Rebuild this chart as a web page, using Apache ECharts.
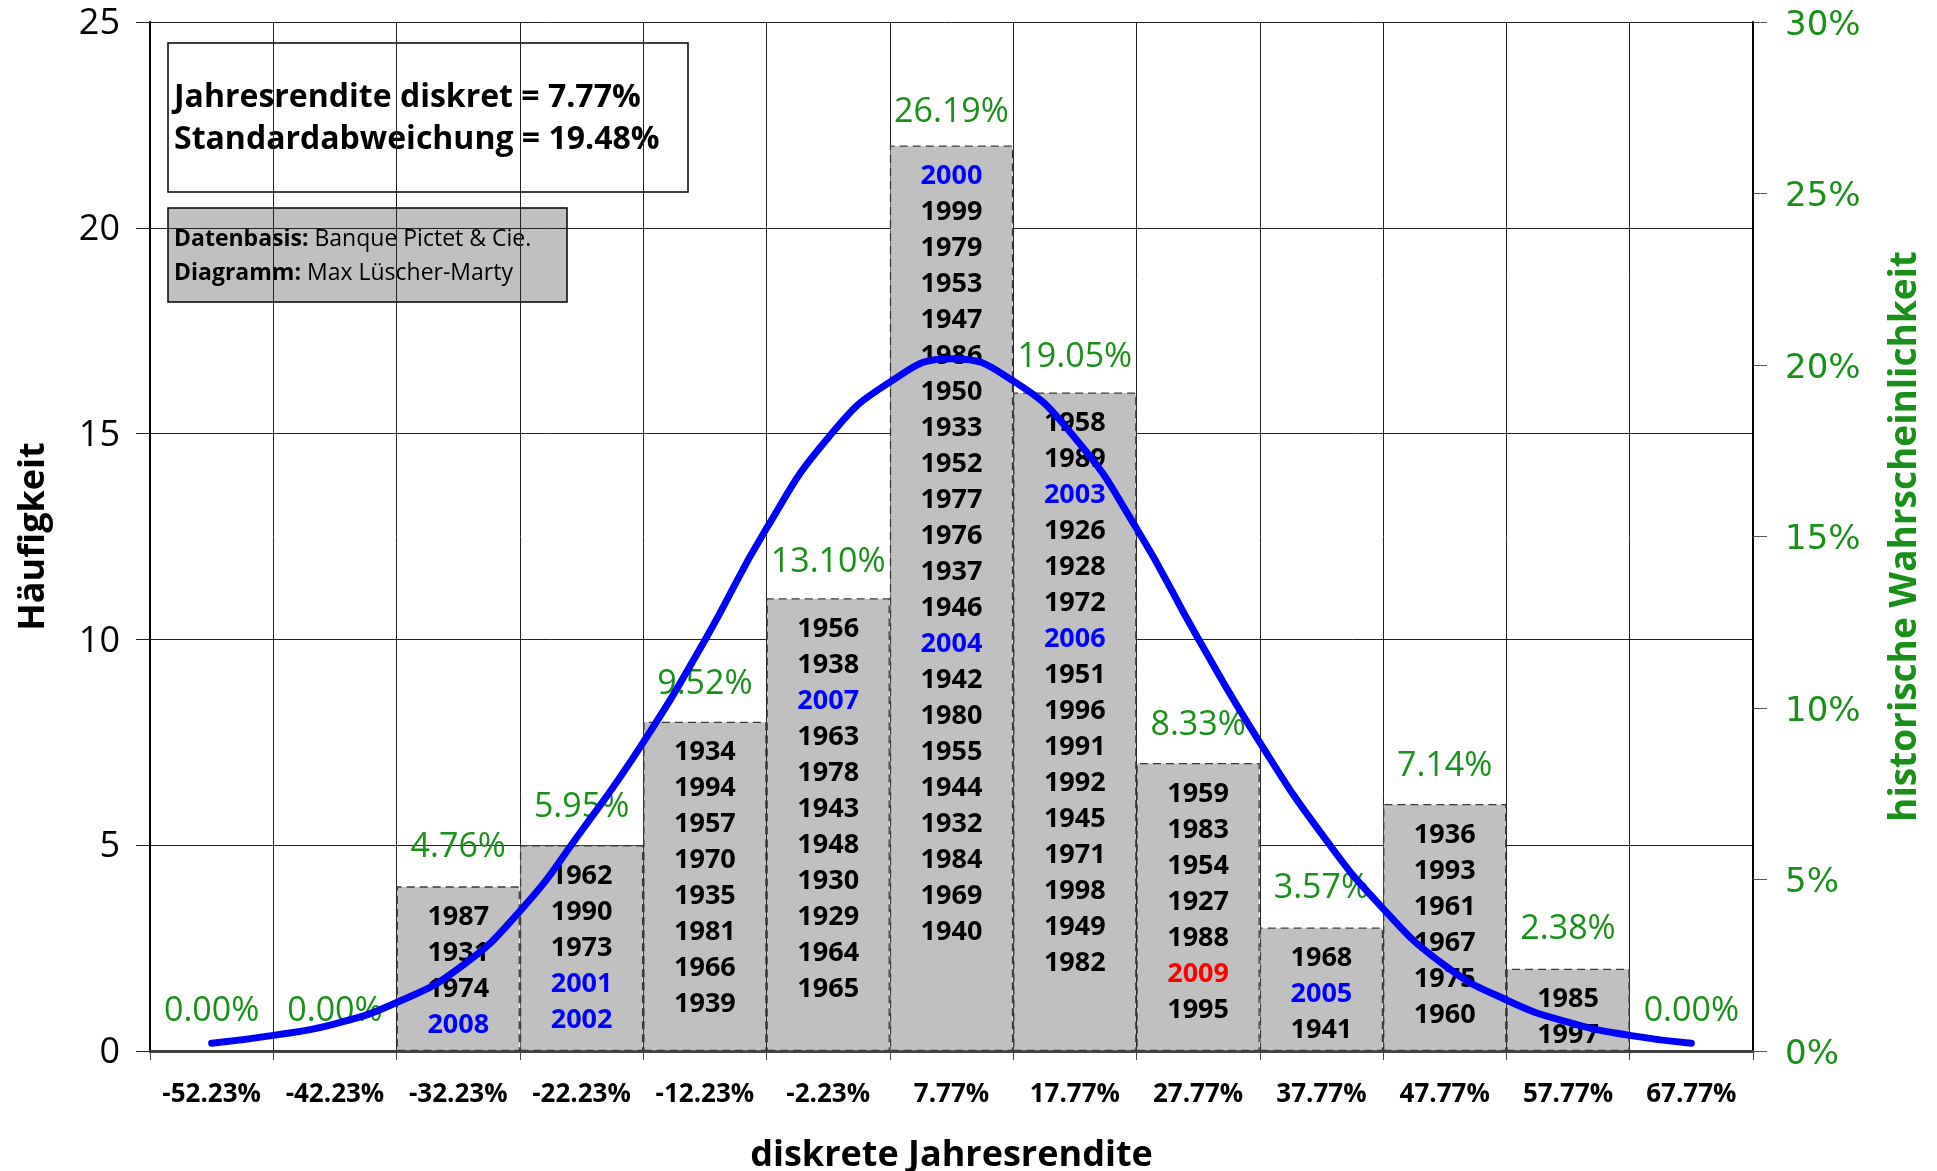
<!DOCTYPE html>
<html>
<head>
<meta charset="utf-8">
<script src="https://cdn.jsdelivr.net/npm/echarts@6/dist/echarts.min.js"></script>
<style>
  html, body { margin: 0; padding: 0; background: #fff; }
  #chart { width: 1937px; height: 1171px; }
</style>
</head>
<body>
<div id="chart"></div>
<script>
// Klassen der diskreten Jahresrendite (Klassenmitten)
var categories = ['-52.23%', '-42.23%', '-32.23%', '-22.23%', '-12.23%', '-2.23%', '7.77%',
  '17.77%', '27.77%', '37.77%', '47.77%', '57.77%', '67.77%'];
// Häufigkeit je Klasse
var counts = [0, 0, 4, 5, 8, 11, 22, 16, 7, 3, 6, 2, 0];
var curveX = [0, 0.5, 1, 1.5, 2, 2.5, 3, 3.5, 4, 4.5, 5, 5.5, 6,
  6.5, 7, 7.5, 8, 8.5, 9, 9.5, 10, 10.5, 11, 11.5, 12];
var curveY = [0.19, 0.38, 0.66, 1.18, 2.0, 3.4, 5.35, 7.5, 9.98, 12.7, 14.9, 16.25, 16.82,
  16.28, 14.9, 12.7, 10.02, 7.5, 5.28, 3.46, 2.08, 1.24, 0.7, 0.38, 0.19];
// Jahre je Klasse (von oben nach unten)
var years = [
  [],
  [],
  ['1987', '1931', '1974', '2008'],
  ['1962', '1990', '1973', '2001', '2002'],
  ['1934', '1994', '1957', '1970', '1935', '1981', '1966', '1939'],
  ['1956', '1938', '2007', '1963', '1978', '1943', '1948', '1930', '1929', '1964', '1965'],
  ['2000', '1999', '1979', '1953', '1947', '1986', '1950', '1933', '1952', '1977', '1976',
   '1937', '1946', '2004', '1942', '1980', '1955', '1944', '1932', '1984', '1969', '1940'],
  ['1958', '1989', '2003', '1926', '1928', '1972', '2006', '1951', '1996', '1991', '1992',
   '1945', '1971', '1998', '1949', '1982'],
  ['1959', '1983', '1954', '1927', '1988', '2009', '1995'],
  ['1968', '2005', '1941'],
  ['1936', '1993', '1961', '1967', '1975', '1960'],
  ['1985', '1997'],
  []
];
var blueYears = ['2000', '2001', '2002', '2003', '2004', '2005', '2006', '2007', '2008'];
var redYears = ['2009'];
var leftTicks = [0, 5, 10, 15, 20, 25];
var rightTicks = [0, 5, 10, 15, 20, 25, 30];

var green = '#1a8f1a';
var total = counts.reduce(function (a, b) { return a + b; }, 0);
// historische Wahrscheinlichkeit in % (auf der rechten Achse)
var share = counts.map(function (c) { return c / total * 100; });

var myChart = echarts.init(document.getElementById('chart'));

function yearLabel(params) {
  var list = years[params.dataIndex];
  return list.map(function (y) {
    var s = 'k';
    if (blueYears.indexOf(y) >= 0) s = 'b';
    if (redYears.indexOf(y) >= 0) s = 'r';
    return '{' + s + '|' + y + '}';
  }).join('\n');
}

var yearFont = { fontFamily: 'Open Sans', fontWeight: 'bold', fontSize: 27, lineHeight: 36 };

var option = {
  animation: false,
  backgroundColor: '#fff',
  grid: { left: 150, right: 184, top: 22, bottom: 120, containLabel: false, outerBoundsMode: 'none' },
  xAxis: [
    {
      type: 'category',
      data: categories,
      boundaryGap: true,
      name: 'diskrete Jahresrendite',
      nameLocation: 'middle',
      nameGap: 87,
      nameTextStyle: { fontFamily: 'Open Sans', fontWeight: 'bold', fontSize: 36, color: '#000' },
      axisLine: { lineStyle: { color: '#444', width: 3 } },
      axisTick: { show: true, length: 9, interval: 0, lineStyle: { color: '#444', width: 1 } },
      axisLabel: {
        interval: 0, margin: 31, color: '#000',
        fontFamily: 'Open Sans', fontWeight: 'bold', fontSize: 26
      },
      splitLine: { show: true, interval: 0, lineStyle: { color: '#222', width: 1 } }
    },
    {
      // Hilfsachse für die Kurve (Klassenindex)
      type: 'value',
      position: 'bottom',
      min: -0.5, max: 12.5,
      show: false
    }
  ],
  yAxis: [
    {
      type: 'value',
      min: leftTicks[0], max: leftTicks[leftTicks.length - 1], interval: 5,
      name: 'Häufigkeit',
      nameLocation: 'middle',
      nameRotate: 90,
      nameGap: 98,
      nameTextStyle: { fontFamily: 'Open Sans', fontWeight: 'bold', fontSize: 36, color: '#000' },
      axisLine: { show: true, onZero: false, lineStyle: { color: '#000', width: 2 } },
      axisTick: { show: true, length: 14, lineStyle: { color: '#222', width: 1 } },
      axisLabel: {
        margin: 30,
        formatter: function (v) { return '{p|' + v + '}'; },
        rich: {
          p: { color: '#000', fontFamily: 'Open Sans', fontSize: 36, padding: [4, 0, 0, 0] }
        }
      },
      splitLine: { show: true, lineStyle: { color: '#222', width: 1 } }
    },
    {
      type: 'value',
      position: 'right',
      min: rightTicks[0], max: rightTicks[rightTicks.length - 1], interval: 5,
      name: 'historische Wahrscheinlichkeit',
      nameLocation: 'middle',
      nameRotate: 90,
      nameGap: 134,
      nameTextStyle: { fontFamily: 'Open Sans', fontWeight: 'bold', fontSize: 37, color: green },
      axisLine: { show: true, onZero: false, lineStyle: { color: '#000', width: 2 } },
      axisTick: { show: true, length: 14, lineStyle: { color: '#555', width: 1 } },
      axisLabel: {
        margin: 32,
        formatter: function (v) { return '{p|' + v + '%}'; },
        rich: {
          p: { color: green, fontFamily: 'DejaVu Sans', fontSize: 34, padding: [8, 0, 0, 0] }
        }
      },
      splitLine: { show: false }
    }
  ],
  series: [
    {
      name: 'Häufigkeit',
      type: 'bar',
      data: counts,
      barWidth: '100%',
      barGap: '-100%',
      itemStyle: {
        color: '#c0c0c0',
        borderColor: '#3a3a3a',
        borderWidth: 1.3,
        borderType: [8, 5]
      },
      label: {
        show: true,
        position: 'insideTop',
        distance: 13,
        align: 'center',
        formatter: yearLabel,
        rich: {
          k: Object.assign({ color: '#000' }, yearFont),
          b: Object.assign({ color: '#0000ff' }, yearFont),
          r: Object.assign({ color: '#ff0000' }, yearFont)
        }
      }
    },
    {
      name: 'historische Wahrscheinlichkeit',
      type: 'bar',
      yAxisIndex: 1,
      data: share,
      barWidth: '100%',
      barGap: '-100%',
      itemStyle: { color: 'rgba(0,0,0,0)' },
      label: {
        show: true,
        position: 'top',
        distance: 23,
        color: green,
        fontFamily: 'Open Sans',
        fontSize: 34,
        formatter: function (p) {
          return p.value.toFixed(2) + '%';
        }
      }
    },
    {
      name: 'Normalverteilung',
      type: 'line',
      xAxisIndex: 1,
      data: curveX.map(function (x, i) { return [x, curveY[i]]; }),
      smooth: 0.5,
      showSymbol: false,
      lineStyle: { color: '#0000ff', width: 7, cap: 'round', join: 'round' },
      itemStyle: { color: '#0000ff' }
    }
  ],
  graphic: [
    {
      type: 'group', z: 100,
      children: [
        {
          type: 'rect',
          shape: { x: 168, y: 43, width: 520, height: 149 },
          style: { fill: '#fff', stroke: '#000', lineWidth: 1.5 }
        },
        {
          type: 'text', x: 174, y: 77,
          style: {
            text: 'Jahresrendite diskret = 7.77%\nStandardabweichung = 19.48%',
            fontFamily: 'Open Sans', fontWeight: 'bold', fontSize: 32, lineHeight: 42,
            fill: '#000'
          }
        },
        {
          type: 'rect',
          shape: { x: 168, y: 208, width: 399, height: 94 },
          style: { fill: '#c0c0c0', stroke: '#000', lineWidth: 1.5 }
        },
        {
          type: 'text', x: 174, y: 222,
          style: {
            text: '{b|Datenbasis:}{n| Banque Pictet & Cie.}\n{b|Diagramm:}{n| Max Lüscher-Marty}',
            rich: {
              b: { fontFamily: 'Open Sans', fontWeight: 'bold', fontSize: 23, lineHeight: 34, fill: '#000' },
              n: { fontFamily: 'Open Sans', fontSize: 23, lineHeight: 34, fill: '#000' }
            }
          }
        }
      ]
    }
  ]
};

myChart.setOption(option);
</script>
</body>
</html>
